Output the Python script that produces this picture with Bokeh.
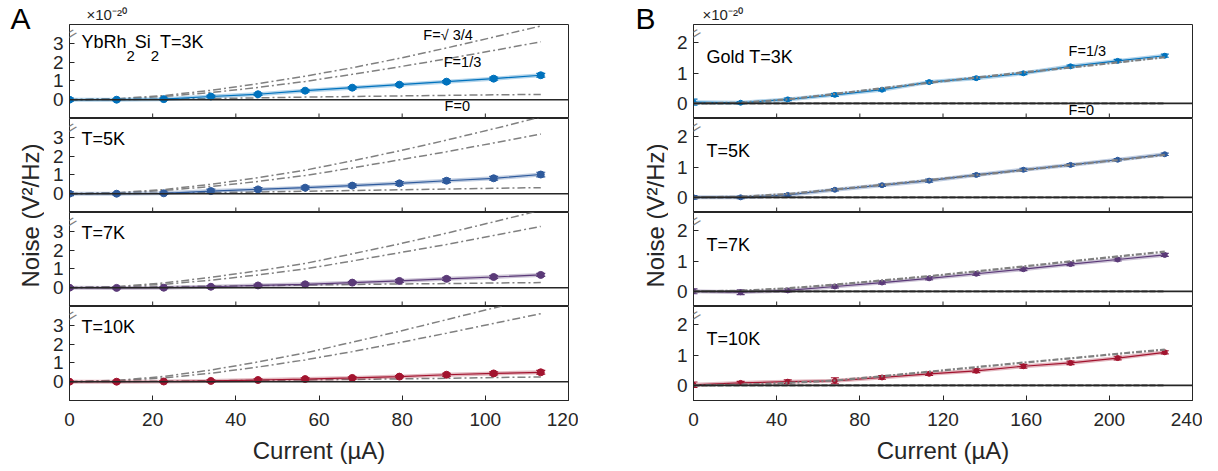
from bokeh.plotting import figure
from bokeh.models import Range1d, Label, Span, Whisker, TeeHead, ColumnDataSource, FixedTicker, Title
from bokeh.layouts import row, column
from bokeh.embed import file_html
from bokeh.resources import INLINE
import math

# ---------------- data (units of 1e-20 V^2/Hz) ----------------
temps = ["3K", "5K", "7K", "10K"]
colors = ["#0072BD", "#2E5A9C", "#5B3A78", "#A2142F"]

# Panel A: YbRh2Si2
current_a = [0, 11.33, 22.67, 34.0, 45.33, 56.67, 68.0, 79.33, 90.67, 102.0, 113.33]
noise_a_3k = [0.0, 0.0, 0.03, 0.17, 0.29, 0.48, 0.64, 0.80, 0.96, 1.12, 1.30]
noise_a_5k = [0.0, 0.0, 0.02, 0.14, 0.23, 0.32, 0.43, 0.55, 0.69, 0.82, 1.02]
noise_a_7k = [0.0, -0.01, 0.0, 0.05, 0.12, 0.18, 0.27, 0.36, 0.47, 0.57, 0.68]
noise_a_10k = [0.0, 0.0, 0.01, 0.04, 0.09, 0.14, 0.20, 0.27, 0.37, 0.44, 0.50]
err_a_3k = [0.08, 0.05, 0.05, 0.06, 0.06, 0.06, 0.06, 0.06, 0.06, 0.08, 0.10]
err_a_5k = [0.10, 0.06, 0.06, 0.10, 0.10, 0.08, 0.08, 0.10, 0.10, 0.10, 0.12]
err_a_7k = [0.06, 0.05, 0.05, 0.06, 0.06, 0.06, 0.06, 0.08, 0.08, 0.08, 0.08]
err_a_10k = [0.05, 0.05, 0.05, 0.06, 0.06, 0.06, 0.06, 0.06, 0.08, 0.08, 0.10]
# theory curves (F = sqrt(3)/4, 1/3, 0)
f34_a_3k = [0, 0.05, 0.22, 0.50, 0.85, 1.25, 1.70, 2.20, 2.75, 3.33, 3.92]
f34_a_5k = [0, 0.05, 0.22, 0.50, 0.85, 1.25, 1.75, 2.28, 2.85, 3.45, 4.08]
f34_a_7k = [0, 0.06, 0.25, 0.55, 0.90, 1.29, 1.80, 2.33, 2.90, 3.50, 4.12]
f34_a_10k = [0, 0.07, 0.28, 0.62, 1.05, 1.53, 2.10, 2.68, 3.30, 3.92, 4.55]
f13_a_3k = [0, 0.04, 0.17, 0.38, 0.65, 0.97, 1.35, 1.75, 2.17, 2.62, 3.08]
f13_a_5k = [0, 0.04, 0.17, 0.38, 0.65, 0.97, 1.37, 1.80, 2.23, 2.70, 3.17]
f13_a_7k = [0, 0.04, 0.18, 0.40, 0.68, 1.00, 1.42, 1.86, 2.30, 2.78, 3.26]
f13_a_10k = [0, 0.05, 0.20, 0.45, 0.78, 1.16, 1.60, 2.08, 2.58, 3.10, 3.62]
f0_a_3k = [0, 0.01, 0.03, 0.06, 0.10, 0.14, 0.17, 0.20, 0.23, 0.26, 0.28]
f0_a_5k = [0, 0.01, 0.03, 0.06, 0.09, 0.13, 0.17, 0.21, 0.25, 0.29, 0.32]
f0_a_7k = [0, 0.02, 0.05, 0.08, 0.11, 0.14, 0.17, 0.20, 0.22, 0.25, 0.27]
f0_a_10k = [0, 0.01, 0.03, 0.05, 0.07, 0.09, 0.12, 0.15, 0.18, 0.22, 0.25]

# Panel B: Gold
current_b = [0, 22.67, 45.33, 68.0, 90.67, 113.33, 136.0, 158.67, 181.33, 204.0, 226.67]
noise_b_3k = [0.04, 0.02, 0.13, 0.28, 0.45, 0.70, 0.83, 0.99, 1.22, 1.40, 1.57]
noise_b_5k = [0.0, 0.0, 0.08, 0.25, 0.40, 0.55, 0.74, 0.91, 1.07, 1.24, 1.42]
noise_b_7k = [0.0, -0.03, 0.03, 0.16, 0.29, 0.43, 0.58, 0.73, 0.90, 1.05, 1.20]
noise_b_10k = [0.02, 0.08, 0.12, 0.15, 0.26, 0.38, 0.48, 0.63, 0.74, 0.90, 1.09]
err_b_3k = [0.10, 0.04, 0.04, 0.05, 0.04, 0.04, 0.04, 0.04, 0.04, 0.05, 0.05]
err_b_5k = [0.06, 0.04, 0.04, 0.04, 0.04, 0.05, 0.04, 0.05, 0.04, 0.04, 0.04]
err_b_7k = [0.08, 0.08, 0.05, 0.05, 0.05, 0.05, 0.05, 0.05, 0.05, 0.05, 0.05]
err_b_10k = [0.09, 0.05, 0.06, 0.10, 0.06, 0.05, 0.06, 0.06, 0.06, 0.06, 0.05]
f13_b_3k = [0, 0.02, 0.13, 0.31, 0.50, 0.68, 0.85, 1.02, 1.18, 1.35, 1.52]
f13_b_5k = [0, 0.02, 0.11, 0.26, 0.41, 0.57, 0.73, 0.90, 1.07, 1.23, 1.40]
f13_b_7k = [0, 0.02, 0.10, 0.22, 0.36, 0.50, 0.66, 0.82, 0.99, 1.15, 1.31]
f13_b_10k = [0, 0.02, 0.08, 0.16, 0.30, 0.45, 0.60, 0.75, 0.89, 1.04, 1.18]
f0_b = [0, 0, 0, 0, 0, 0, 0, 0, 0, 0, 0]

yticks_a = [0, 1, 2, 3]
yticks_b = [0, 1, 2]
xticks_a = [0, 20, 40, 60, 80, 100, 120]
xticks_b = [0, 40, 80, 120, 160, 200, 240]

FONT = "Liberation Sans"
AX = "#262626"
GRAY = "#808080"

panel_a = [
    (noise_a_3k, err_a_3k, f34_a_3k, f13_a_3k, f0_a_3k),
    (noise_a_5k, err_a_5k, f34_a_5k, f13_a_5k, f0_a_5k),
    (noise_a_7k, err_a_7k, f34_a_7k, f13_a_7k, f0_a_7k),
    (noise_a_10k, err_a_10k, f34_a_10k, f13_a_10k, f0_a_10k),
]
panel_b = [
    (noise_b_3k, err_b_3k, f13_b_3k),
    (noise_b_5k, err_b_5k, f13_b_5k),
    (noise_b_7k, err_b_7k, f13_b_7k),
    (noise_b_10k, err_b_10k, f13_b_10k),
]

FRAME_W = 499
FRAME_H = 94
TOP = 24
H_TOTAL = 470


def base_fig(i, xmax, yr, xticks, yticks):
    p = figure(frame_width=FRAME_W, frame_height=FRAME_H,
               x_range=Range1d(0, xmax), y_range=Range1d(*yr),
               output_backend="svg", toolbar_location=None,
               min_border_left=25, min_border_right=10,
               min_border_top=TOP if i == 0 else 0, min_border_bottom=0)
    p.grid.visible = False
    p.outline_line_color = AX
    p.outline_line_width = 1
    p.yaxis.ticker = FixedTicker(ticks=yticks)
    p.xaxis.ticker = FixedTicker(ticks=xticks)
    for ax in (p.xaxis[0], p.yaxis[0]):
        ax.major_tick_in = 5
        ax.major_tick_out = 0
        ax.minor_tick_in = 0
        ax.minor_tick_out = 0
        ax.axis_line_color = AX
        ax.major_tick_line_color = AX
        ax.major_label_text_font = FONT
        ax.major_label_text_font_size = "19px"
        ax.major_label_text_color = AX
    p.yaxis.major_label_standoff = 6
    if i < 3:
        # stacked panel: no tick labels, only inward ticks along the bottom edge
        p.xaxis.visible = False
        p.scatter(xticks, [yr[0]] * len(xticks), marker="dash", angle=math.pi / 2,
                  size=10, line_color=AX, line_width=1)
    else:
        p.xaxis.major_label_standoff = 12
        p.xaxis.axis_label = "Current (µA)"
        p.xaxis.axis_label_text_font = FONT
        p.xaxis.axis_label_text_font_size = "24px"
        p.xaxis.axis_label_text_font_style = "normal"
        p.xaxis.axis_label_text_color = AX
        p.xaxis.axis_label_standoff = 8
    p.add_layout(Span(location=0, dimension="width", line_color=AX, line_width=1.6))
    return p


def add_data(p, x, y, err, color, msize, cap):
    src = ColumnDataSource(dict(x=x, y=y,
                                upper=[a + b for a, b in zip(y, err)],
                                lower=[a - b for a, b in zip(y, err)]))
    p.line("x", "y", source=src, line_color=color, line_width=4, line_alpha=0.3)
    p.line("x", "y", source=src, line_color=color, line_width=1.2)
    p.add_layout(Whisker(source=src, base="x", upper="upper", lower="lower",
                         line_color=color, line_width=1.2,
                         upper_head=TeeHead(size=cap, line_color=color, line_width=1.2),
                         lower_head=TeeHead(size=cap, line_color=color, line_width=1.2)))
    p.scatter("x", "y", source=src, size=msize, fill_color=color, line_color=color,
              marker="circle")


def add_label(p, x, y, text, size, **kw):
    color = kw.pop("color", "black")
    p.add_layout(Label(x=x, y=y, text=text, text_font=FONT, text_font_size=size,
                       text_color=color, text_baseline="middle", **kw))


def add_break(p, ybreak):
    p.add_layout(Label(x=0, y=ybreak, text="//", text_font=FONT, text_font_size="16px",
                       text_color=GRAY, angle=-0.75, text_align="center",
                       text_baseline="middle"))


def add_exponent(p, offset):
    p.add_layout(Title(text="×10⁻²⁰", align="left", offset=offset, standoff=3,
                       text_font=FONT, text_font_size="15px", text_font_style="normal",
                       text_color=AX), "above")


# ---------------- column A ----------------
figs_a = []
for i, (y, err, f34, f13, f0) in enumerate(panel_a):
    p = base_fig(i, 120, (-1, 4), xticks_a, yticks_a)
    for curve in (f34, f13, f0):
        p.line(current_a, curve, line_color=GRAY, line_width=1.5, line_dash="8 3 2 3")
    add_data(p, current_a, y, err, colors[i], 7, 9)
    add_break(p, 3.45)
    if i == 0:
        add_exponent(p, 17)
        add_label(p, 2.9, 3.07, "YbRh", "18px")
        add_label(p, 2.9, 2.35, "2", "15px", x_offset=45)
        add_label(p, 2.9, 3.07, "Si", "18px", x_offset=53.3)
        add_label(p, 2.9, 2.35, "2", "15px", x_offset=69.3)
        add_label(p, 2.9, 3.07, " T=3K", "18px", x_offset=78.5)
        add_label(p, 85.1, 3.44, "F=√ 3/4", "14.5px")
        add_label(p, 90.0, 2.0, "F=1/3", "14.5px")
        add_label(p, 90.2, -0.36, "F=0", "14.5px")
    else:
        add_label(p, 2.9, 2.93, "T=" + temps[i], "18px")
    figs_a.append(p)

# ---------------- column B ----------------
figs_b = []
for i, (y, err, f13) in enumerate(panel_b):
    p = base_fig(i, 240, (-0.5, 2.6), xticks_b, yticks_b)
    p.line(current_b, f0_b, line_color=GRAY, line_width=2.4, line_dash="6 2")
    add_data(p, current_b, y, err, colors[i], 5, 8)
    p.line(current_b, f13, line_color=GRAY, line_width=2.2, line_dash="6 2 2 2")
    add_break(p, 2.27)
    if i == 0:
        add_exponent(p, 9)
        add_label(p, 6.3, 1.52, "Gold T=3K", "18px")
        add_label(p, 180.4, 1.73, "F=1/3", "14.5px")
        add_label(p, 180.4, -0.23, "F=0", "14.5px")
    else:
        add_label(p, 6.3, 1.52, "T=" + temps[i], "18px")
    figs_b.append(p)


# ---------------- side label strips ----------------
def strip(width, letter, lx, nx):
    s = figure(width=width, height=H_TOTAL, x_range=Range1d(0, width),
               y_range=Range1d(H_TOTAL, 0), output_backend="svg",
               toolbar_location=None, min_border=0)
    s.axis.visible = False
    s.grid.visible = False
    s.outline_line_color = None
    s.add_layout(Label(x=lx, y=18, text=letter, text_font=FONT, text_font_size="30px",
                       text_align="center", text_baseline="middle", text_color="black"))
    s.add_layout(Label(x=nx, y=215, text="Noise (V²/Hz)", text_font=FONT,
                       text_font_size="24px", text_align="center", text_baseline="middle",
                       angle=math.pi / 2, text_color=AX))
    return s


strip_a = strip(44, "A", 20, 30)
strip_b = strip(90, "B", 67, 77)

layout = row(strip_a, column(*figs_a), strip_b, column(*figs_b))

open("out.html", "w").write(file_html(layout, INLINE, title="Noise"))
